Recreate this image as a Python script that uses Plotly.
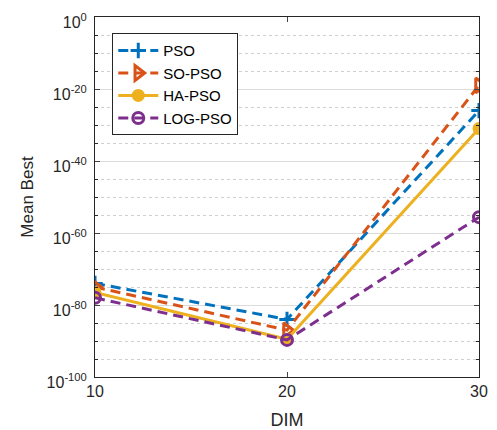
import plotly.graph_objects as go

dims = [10, 20, 30]
pso = [1e-74, 1e-84, 1e-26]
so_pso = [1e-75, 1e-87, 1e-19]
ha_pso = [3e-77, 3e-90, 1e-31]
log_pso = [1e-78, 2e-90, 2.5e-56]

ytick_exp = [0, -20, -40, -60, -80, -100]

series = [
    ("PSO", pso, "#0072BD", "10px,6px", "cross-thin-open", 11),
    ("SO-PSO", so_pso, "#D95319", "10px,6px", "triangle-right-open", 13),
    ("HA-PSO", ha_pso, "#EDB120", "solid", "circle", 10),
    ("LOG-PSO", log_pso, "#7E2F8E", "10px,6px", "circle-open", 11),
]

fig = go.Figure()
for name, vals, color, dash, symbol, size in series:
    fig.add_trace(go.Scatter(
        x=dims, y=vals, name=name, mode="lines+markers",
        line=dict(color=color, width=3, dash=dash),
        marker=dict(symbol=symbol, size=size, color=color,
                    line=dict(color=color, width=3)),
    ))

# page body adds 8px offset, so the figure is 8px smaller than the window
fig.update_layout(
    width=489, height=422,
    margin=dict(l=87, r=18, t=9, b=53),
    plot_bgcolor="white", paper_bgcolor="white",
    font=dict(family="Liberation Sans, Arial", size=15, color="#262626"),
    legend=dict(x=0.045, y=0.955, xanchor="left", yanchor="top",
                bordercolor="#262626", borderwidth=1, bgcolor="white",
                font=dict(family="Liberation Sans, Arial", size=15, color="black"),
                tracegroupgap=0, itemwidth=40),
    xaxis=dict(
        title=dict(text="DIM", font=dict(size=18), standoff=14),
        range=[10, 30], tickvals=dims, ticks="inside", ticklen=5,
        tickfont=dict(size=16), ticklabeloverflow="allow",
        showgrid=False, showline=True, linecolor="#262626", linewidth=1,
        mirror="allticks", zeroline=False, automargin=False,
    ),
    yaxis=dict(
        title=dict(text="Mean Best", font=dict(size=17), standoff=8),
        type="log", range=[-100, 0],
        tickvals=[10.0 ** e for e in ytick_exp],
        ticktext=["10<sup>%d</sup>" % e for e in ytick_exp],
        ticks="inside", ticklen=5, tickfont=dict(size=16),
        ticklabeloverflow="allow", ticklabelstandoff=4, ticklabelshift=5,
        showgrid=True, gridcolor="#dcdcdc", gridwidth=1,
        minor=dict(tickvals=[10.0 ** -e for e in range(5, 100, 5) if e % 20 != 0],
                   showgrid=True, gridcolor="#cfcfcf", griddash="dot",
                   ticks="inside", ticklen=3, tickcolor="#262626"),
        showline=True, linecolor="#262626", linewidth=1,
        mirror="allticks", zeroline=False, automargin=False,
    ),
)

fig.write_html("out.html")
